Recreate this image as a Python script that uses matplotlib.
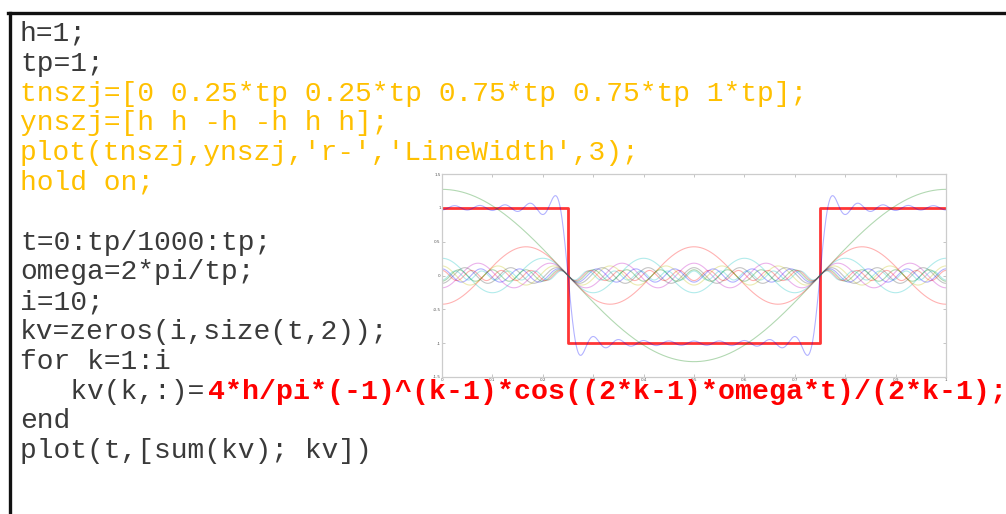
import numpy as np
import matplotlib.pyplot as plt
from matplotlib.lines import Line2D

# square wave and Fourier series parameters
h = 1
tp = 1
n_terms = 10
tnszj = [0, 0.25 * tp, 0.25 * tp, 0.75 * tp, 0.75 * tp, 1 * tp]
ynszj = [h, h, -h, -h, h, h]

x_ticks = [0, 0.1, 0.2, 0.3, 0.4, 0.5, 0.6, 0.7, 0.8, 0.9, 1]
x_tick_labels = ["0", "0.1", "0.2", "0.3", "0.4", "0.5", "0.6", "0.7", "0.8", "0.9", "1"]
y_ticks = [-1.5, -1, -0.5, 0, 0.5, 1, 1.5]
y_tick_labels = ["-1.5", "-1", "-0.5", "0", "0.5", "1", "1.5"]

# MATLAB source shown beside the plot, one entry per line
BLACK = "#3a3a3a"
ORANGE = "#ffc000"
code_lines = [
    ("h=1;", BLACK),
    ("tp=1;", BLACK),
    ("tnszj=[0 0.25*tp 0.25*tp 0.75*tp 0.75*tp 1*tp];", ORANGE),
    ("ynszj=[h h -h -h h h];", ORANGE),
    ("plot(tnszj,ynszj,'r-','LineWidth',3);", ORANGE),
    ("hold on;", ORANGE),
    ("", BLACK),
    ("t=0:tp/1000:tp;", BLACK),
    ("omega=2*pi/tp;", BLACK),
    ("i=10;", BLACK),
    ("kv=zeros(i,size(t,2));", BLACK),
    ("for k=1:i", BLACK),
    ("   kv(k,:)=", BLACK),
    ("end", BLACK),
    ("plot(t,[sum(kv); kv])", BLACK),
]
loop_body = "4*h/pi*(-1)^(k-1)*cos((2*k-1)*omega*t)/(2*k-1);"

# old MATLAB colour order
matlab_colors = ["#0000ff", "#008000", "#ff0000", "#00bfbf", "#bf00bf", "#bfbf00", "#404040"]

W, H = 1006, 514
fig = plt.figure(figsize=(W / 100, H / 100), dpi=100)


def fx(px):
    return px / W


def fy(py):
    return 1 - py / H


# code text
char_w = 16.8
for n, (line, color) in enumerate(code_lines):
    base = 41 + 29.8 * n
    fig.text(fx(20), fy(base), line, color=color, family="Liberation Mono",
             fontsize=20.2, va="baseline", ha="left")
    if line.startswith("   kv(k,:)="):
        fig.text(fx(20 + char_w * len(line) + 3), fy(base), loop_body, color="#ff0000",
                 family="Liberation Mono", fontweight="bold", fontsize=20.3,
                 va="baseline", ha="left")

# box around the code (top and left edges)
fig.add_artist(Line2D([fx(8), fx(W)], [fy(13), fy(13)], color="#111111", lw=2.4))
fig.add_artist(Line2D([fx(10), fx(10)], [fy(13), fy(H)], color="#111111", lw=2.4))

# plot of the square wave and its Fourier terms
ax = fig.add_axes([fx(442), fy(377), fx(946) - fx(442), fy(174) - fy(377)])
ax.plot(tnszj, ynszj, color="#ff2020", lw=2.0, alpha=0.9)

t = np.arange(0, tp + tp / 2000, tp / 1000)
omega = 2 * np.pi / tp
kv = np.zeros((n_terms, t.size))
for k in range(1, n_terms + 1):
    kv[k - 1] = 4 * h / np.pi * (-1) ** (k - 1) * np.cos((2 * k - 1) * omega * t) / (2 * k - 1)

curves = [kv.sum(axis=0)] + list(kv)
for j, y in enumerate(curves):
    ax.plot(t, y, color=matlab_colors[j % len(matlab_colors)], lw=0.8, alpha=0.3)

ax.set_xlim(0, 1)
ax.set_ylim(-1.5, 1.5)
ax.set_xticks(x_ticks, x_tick_labels)
ax.set_yticks(y_ticks, y_tick_labels)
ax.tick_params(direction="in", length=2.5, width=0.6, color="#bbbbbb",
               labelsize=3, labelcolor="#555555", pad=1.0,
               top=True, right=True)
for spine in ax.spines.values():
    spine.set_color("#cccccc")
    spine.set_linewidth(0.9)

fig.savefig("out.png", dpi=100)
plt.close(fig)
